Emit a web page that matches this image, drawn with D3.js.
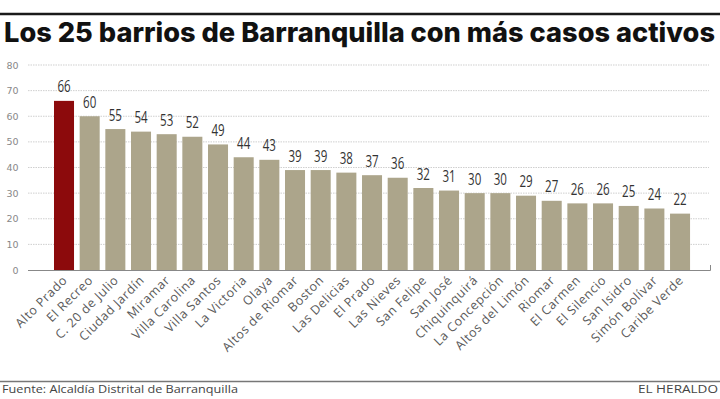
<!DOCTYPE html>
<html><head><meta charset="utf-8">
<script src="https://cdn.jsdelivr.net/npm/d3@7"></script>
<style>
html,body{margin:0;padding:0;background:#fff;}
svg{display:block;}
</style></head>
<body>
<svg id="chart" width="720" height="399"></svg>
<script>
const categories = ["Alto Prado","El Recreo","C. 20 de Julio","Ciudad Jardín","Miramar","Villa Carolina","Villa Santos","La Victoria","Olaya","Altos de Riomar","Boston","Las Delicias","El Prado","Las Nieves","San Felipe","San José","Chiquinquirá","La Concepción","Altos del Limón","Riomar","El Carmen","El Silencio","San Isidro","Simón Bolívar","Caribe Verde"];
const values = [66,60,55,54,53,52,49,44,43,39,39,38,37,36,32,31,30,30,29,27,26,26,25,24,22];
const yTicks = [0,10,20,30,40,50,60,70,80];
const title = "Los 25 barrios de Barranquilla con más casos activos";
const source = "Fuente: Alcaldía Distrital de Barranquilla";
const brand = "EL HERALDO";

const svg = d3.select("#chart");
const W = 720, H = 399;

// top rule
svg.append("line").attr("x1",0).attr("x2",W).attr("y1",14).attr("y2",14)
  .attr("stroke","#1a1a1a").attr("stroke-width",2.5);

svg.append("text").attr("x",4).attr("y",41.5)
  .attr("font-family","Inter, 'Open Sans', sans-serif").attr("font-weight",800)
  .attr("font-size",27).attr("fill","#111")
  .attr("textLength",711).attr("lengthAdjust","spacingAndGlyphs")
  .text(title);

const y = d3.scaleLinear().domain([0,80]).range([270,65]);
const x = d3.scaleBand().domain(categories).range([48.35,695.7]).padding(0.22);

// grid
svg.append("g").selectAll("line").data(yTicks.filter(d=>d>0)).join("line")
  .attr("x1",28).attr("x2",709).attr("y1",d=>y(d)).attr("y2",d=>y(d))
  .attr("stroke","#cfcfcf").attr("stroke-width",1).attr("stroke-dasharray","1.5,1");

// y tick labels
svg.append("g").selectAll("text").data(yTicks).join("text")
  .attr("x",18.5).attr("y",d=>y(d)+3.5).attr("text-anchor","end")
  .attr("font-family","'DejaVu Sans', sans-serif").attr("font-size",9.5).attr("fill","#888")
  .text(d=>d);

// bars
svg.append("g").selectAll("rect").data(values).join("rect")
  .attr("x",(d,i)=>x(categories[i])).attr("width",x.bandwidth())
  .attr("y",d=>y(d)).attr("height",d=>y(0)-y(d))
  .attr("fill",(d,i)=> i===0 ? "#8c0a0c" : "#aca58b");

// value labels (condensed)
svg.append("g").selectAll("text").data(values).join("text")
  .attr("transform",(d,i)=>`translate(${x(categories[i])+x.bandwidth()/2},${y(d)-8.5}) scale(0.68,1)`)
  .attr("text-anchor","middle")
  .attr("font-family","'Open Sans', sans-serif")
  .attr("font-size",17).attr("fill","#333")
  .text(d=>d);

// x axis line
svg.append("path").attr("d",`M28,270.5H710.5V265`).attr("fill","none")
  .attr("stroke","#888").attr("stroke-width",1);

// x labels
svg.append("g").selectAll("text").data(categories).join("text")
  .attr("transform",d=>`translate(${x(d)+x.bandwidth()/2+4},281) rotate(-45)`)
  .attr("text-anchor","end")
  .attr("font-family","'Open Sans', sans-serif").attr("font-size",12.5).attr("fill","#5a5a5a")
  .attr("letter-spacing",0.6)
  .text(d=>d);

// bottom rule
svg.append("line").attr("x1",0).attr("x2",W).attr("y1",381.5).attr("y2",381.5)
  .attr("stroke","#777").attr("stroke-width",1.5);

svg.append("text").attr("x",2).attr("y",393)
  .attr("font-family","'Open Sans', sans-serif").attr("font-size",10.5).attr("fill","#444")
  .attr("textLength",236).attr("lengthAdjust","spacingAndGlyphs")
  .text(source);
svg.append("text").attr("x",718).attr("y",393).attr("text-anchor","end")
  .attr("font-family","'Open Sans', sans-serif").attr("font-size",10.5).attr("fill","#444")
  .attr("textLength",80).attr("lengthAdjust","spacingAndGlyphs")
  .text(brand);
</script>
</body></html>
